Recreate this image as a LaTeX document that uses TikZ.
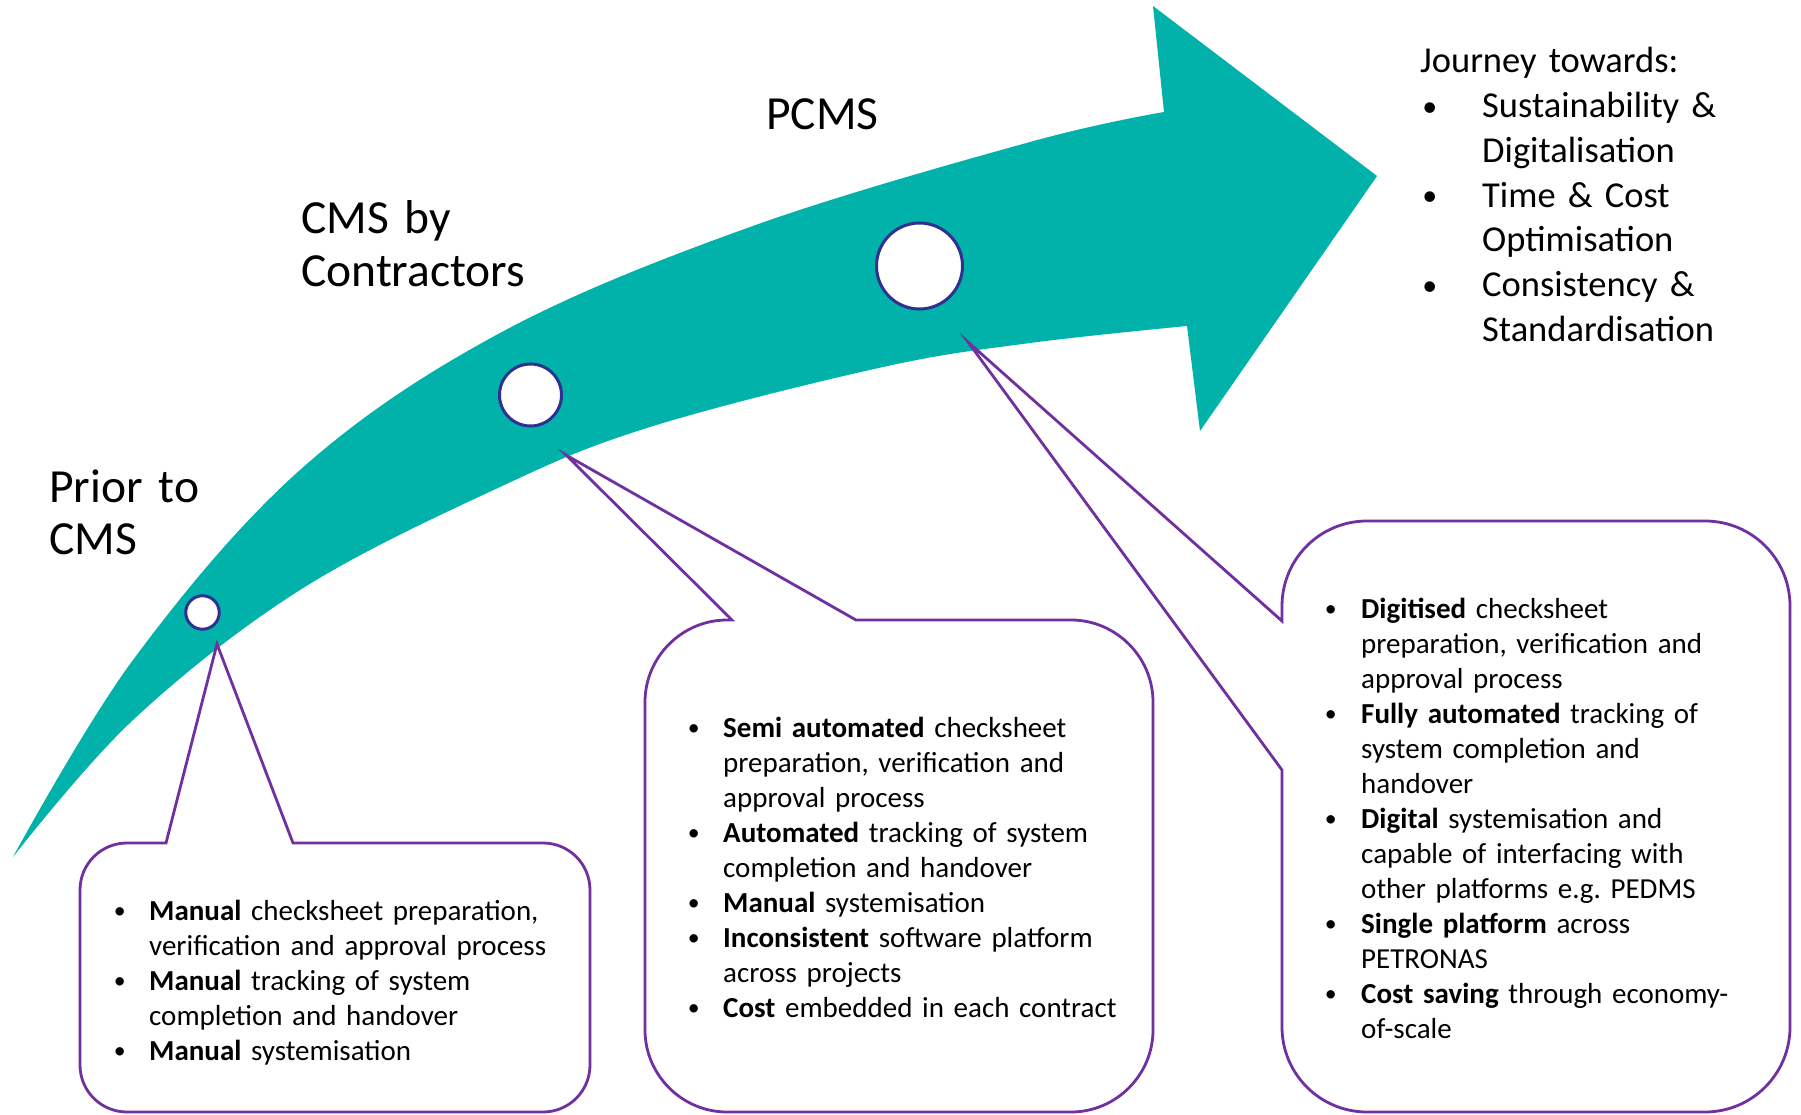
\documentclass[tikz,border=0pt]{standalone}
\usepackage{fontspec}
\setmainfont{Carlito}
\frenchspacing
\definecolor{arrowteal}{RGB}{0,178,169}
\definecolor{ringblue}{RGB}{46,49,146}
\definecolor{callpurple}{RGB}{112,48,160}
\newlength\bulw
\newcommand\myitem{\makebox[\bulw][l]{\hspace*{0.06em}\raisebox{0.04em}{\scalebox{0.82}{\textbullet}}}}
\newcommand\mycont{\hspace*{\bulw}}
\begin{document}
\begin{tikzpicture}[x=1pt,y=-1pt,
  callout/.style={draw=callpurple, line width=2.8pt, line join=miter},
  ring/.style={circle, draw=ringblue, line width=3pt, fill=white, inner sep=0pt},
  heading/.style={anchor=base west, inner sep=0pt, text width=400pt, align=left,
    font=\fontsize{47.5}{52.5}\selectfont},
  bodytext/.style={anchor=base west, inner sep=0pt, text width=470pt, align=left,
    font=\fontsize{29}{35}\selectfont},
  goaltext/.style={anchor=base west, inner sep=0pt, text width=370pt, align=left,
    font=\fontsize{36.5}{44.7}\selectfont}]
\useasboundingbox (0,0) rectangle (1801,1115);
\fill[white] (0,0) rectangle (1801,1115);

% curved arrow
\fill[arrowteal]
  plot[smooth, tension=0.6] coordinates {(13,857) (133,660) (300,470) (500,333) (750,227) (1030,142) (1164,112)}
  -- (1153,6) -- (1377,176) -- (1200,431) -- (1187,326)
  -- plot[smooth, tension=0.6] coordinates {(1187,326) (1030,343) (883,367) (650,427) (500,487) (300,590) (133,720) (13,857)}
  -- cycle;

% milestones
\node[ring, minimum size=33.5pt] (c1) at (202.5,612.5) {};
\node[ring, minimum size=62pt] (c2) at (530.5,395) {};
\node[ring, minimum size=86pt] (c3) at (919.5,266) {};

% headings
\node[heading] (h1) at (49,502) {Prior to\\CMS};
\node[heading] (h2) at (301,234) {CMS by\\Contractors};
\node[heading] (h3) at (766,130) {PCMS};

% goals
\node[goaltext] (goal) at (1420,73) {\setlength\bulw{62pt}%
Journey towards:\\
\myitem Sustainability \&\\
\mycont Digitalisation\\
\myitem Time \& Cost\\
\mycont Optimisation\\
\myitem Consistency \&\\
\mycont Standardisation};

% callout 1
\coordinate (p1) at (217,644);
\draw[callout] (166,843) -- (p1) -- (293,843) -- (543,843)
  .. controls (569,843) and (590,864) .. (590,890) -- (590,1065)
  .. controls (590,1091) and (569,1112) .. (543,1112) -- (127,1112)
  .. controls (101,1112) and (80,1091) .. (80,1065) -- (80,890)
  .. controls (80,864) and (101,843) .. (127,843) -- cycle;

% callout 2
\coordinate (p2) at (566,455);
\draw[callout] (732,620) -- (p2) -- (856,620) -- (1071,620)
  .. controls (1116,620) and (1153,657) .. (1153,702) -- (1153,1030)
  .. controls (1153,1075) and (1116,1112) .. (1071,1112) -- (727,1112)
  .. controls (682,1112) and (645,1075) .. (645,1030) -- (645,702)
  .. controls (645,657) and (682,620) .. (727,620) -- cycle;

% callout 3
\coordinate (p3) at (968,342);
\draw[callout] (1282,770) -- (p3) -- (1282,621) -- (1282,606)
  .. controls (1282,559) and (1320,521) .. (1367,521) -- (1705,521)
  .. controls (1752,521) and (1790,559) .. (1790,606) -- (1790,1027)
  .. controls (1790,1074) and (1752,1112) .. (1705,1112) -- (1367,1112)
  .. controls (1320,1112) and (1282,1074) .. (1282,1027) -- cycle;

% callout texts
\node[bodytext] (t1) at (112,920) {\setlength\bulw{37pt}%
\myitem\textbf{Manual} checksheet preparation,\\
\mycont verification and approval process\\
\myitem\textbf{Manual} tracking of system\\
\mycont completion and handover\\
\myitem\textbf{Manual} systemisation};

\node[bodytext] (t2) at (686,737) {\setlength\bulw{37pt}%
\myitem\textbf{Semi automated} checksheet\\
\mycont preparation, verification and\\
\mycont approval process\\
\myitem\textbf{Automated} tracking of system\\
\mycont completion and handover\\
\myitem\textbf{Manual} systemisation\\
\myitem\textbf{Inconsistent} software platform\\
\mycont across projects\\
\myitem\textbf{Cost} embedded in each contract};

\node[bodytext] (t3) at (1323,618) {\setlength\bulw{38pt}%
\myitem\textbf{Digitised} checksheet\\
\mycont preparation, verification and\\
\mycont approval process\\
\myitem\textbf{Fully automated} tracking of\\
\mycont system completion and\\
\mycont handover\\
\myitem\textbf{Digital} systemisation and\\
\mycont capable of interfacing with\\
\mycont other platforms e.g.\ PEDMS\\
\myitem\textbf{Single platform} across\\
\mycont PETRONAS\\
\myitem\textbf{Cost saving} through economy-\\
\mycont of-scale};
\end{tikzpicture}
\end{document}
